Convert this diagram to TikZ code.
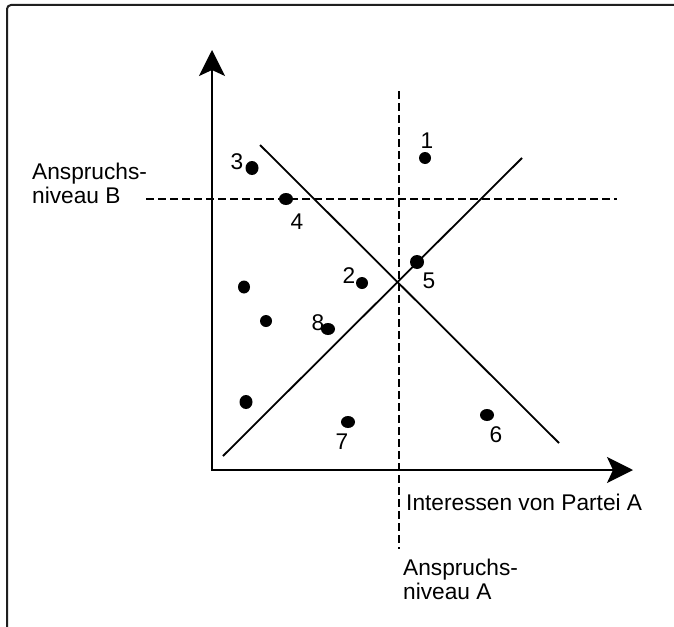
\documentclass[tikz,border=0pt]{standalone}
\usepackage{fontspec}
\setmainfont{Liberation Sans}
\usetikzlibrary{arrows.meta,shapes.geometric}
\begin{document}
\begin{tikzpicture}[x=1pt,y=-1pt,
  frame/.style={draw=black!88,line width=2pt,rounded corners=4pt},
  axis/.style={line width=1.8pt,-{Stealth[length=26pt,width=26pt,inset=6pt]}},
  diag/.style={line width=1.8pt},
  level/.style={line width=1.5pt,dash pattern=on 8pt off 4pt},
  dot/.style={ellipse,fill=black,inner sep=0pt,minimum width=12pt,minimum height=11.5pt},
  lbl/.style={inner sep=0pt,font=\fontsize{22.7}{24}\selectfont},
  txt/.style={inner sep=0pt,align=left,anchor=north west,font=\fontsize{22.7}{24}\selectfont}]
\useasboundingbox (0,0) rectangle (674,626);
\fill[white] (0,0) rectangle (674,626);
% frame
\draw[frame] (7,640) |- (690,5);
% axes
\coordinate (O) at (212,470);
\coordinate (Ytip) at (212,50);
\coordinate (Xtip) at (633,470);
\draw[axis] (O) -- (Ytip);
\draw[axis] (211,470) -- (Xtip);
% diagonals
\coordinate (d1s) at (260,145);
\coordinate (d1e) at (559,443);
\coordinate (d2s) at (223,456);
\coordinate (d2e) at (522,158);
\draw[diag] (d1s) -- (d1e);
\draw[diag] (d2s) -- (d2e);
% aspiration levels
\coordinate (hbs) at (146,199);
\coordinate (hbe) at (617,199);
\coordinate (vas) at (399,91);
\coordinate (vae) at (399,549);
\draw[level] (hbs) -- (hbe);
\draw[level] (vas) -- (vae);
% points
\node[dot,minimum width=12pt,minimum height=12pt] (p1) at (425,158) {};
\node[dot,minimum width=13pt,minimum height=14pt] (p3) at (252,168) {};
\node[dot,minimum width=14pt,minimum height=12pt] (p4) at (286,199) {};
\node[dot,minimum width=12pt,minimum height=12pt] (p2) at (362,283) {};
\node[dot,minimum width=14pt,minimum height=14pt] (p5) at (417,262) {};
\node[dot,minimum width=14pt,minimum height=12pt] (p8) at (328,329) {};
\node[dot,minimum width=12pt,minimum height=13pt] (pa) at (244,287) {};
\node[dot,minimum width=12pt,minimum height=12pt] (pb) at (266,321) {};
\node[dot,minimum width=13pt,minimum height=14pt] (pc) at (246,402) {};
\node[dot,minimum width=14pt,minimum height=12pt] (p7) at (348,422) {};
\node[dot,minimum width=14pt,minimum height=12pt] (p6) at (487,415) {};
% point labels
\node[lbl] (l1) at (427,141) {1};
\node[lbl] (l3) at (237,162) {3};
\node[lbl] (l4) at (297,222) {4};
\node[lbl] (l2) at (349,276) {2};
\node[lbl] (l5) at (429,281) {5};
\node[lbl] (l8) at (318,323) {8};
\node[lbl] (l7) at (342,442) {7};
\node[lbl] (l6) at (496,435) {6};
% texts
\node[txt] (tB) at (32,163) {Anspruchs-\\niveau B};
\node[txt] (tX) at (406,494) {Interessen von Partei A};
\node[txt] (tA) at (403,559) {Anspruchs-\\niveau A};
\end{tikzpicture}
\end{document}
